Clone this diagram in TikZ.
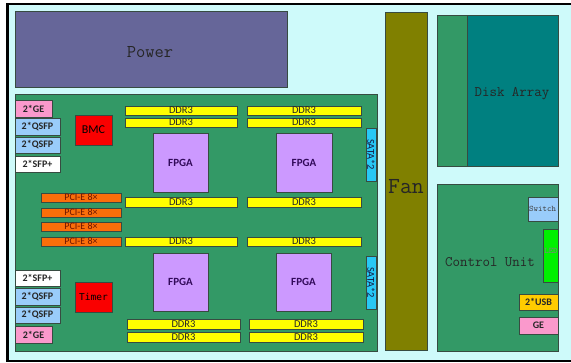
\documentclass[tikz,border=0pt]{standalone}
\usepackage{fontspec}
\newfontfamily\carl{Carlito}
\newfontfamily\dvm{DejaVu Sans Mono}
\definecolor{bgcyan}{RGB}{206,250,250}
\definecolor{powerc}{RGB}{102,102,153}
\definecolor{boardc}{RGB}{51,153,102}
\definecolor{fanc}{RGB}{128,128,0}
\definecolor{tealc}{RGB}{0,128,128}
\definecolor{pcic}{RGB}{250,110,10}
\definecolor{ddrc}{RGB}{255,255,0}
\definecolor{fpgac}{RGB}{204,153,255}
\definecolor{satac}{RGB}{40,200,245}
\definecolor{redc}{RGB}{250,0,0}
\definecolor{pinkc}{RGB}{250,153,204}
\definecolor{lbluec}{RGB}{153,204,250}
\definecolor{goldc}{RGB}{255,204,0}
\definecolor{ledc}{RGB}{0,240,0}
\definecolor{edgec}{RGB}{55,75,65}
\newcommand\bx[7]{\node[#1, minimum width={#5pt-#3pt}, minimum height={#6pt-#4pt}, anchor=north west] (#2) at (#3,#4) {#7};}
\tikzset{
  box/.style={draw=edgec, line width=0.8pt, inner sep=0pt, outer sep=0pt},
  ddr/.style={box, fill=ddrc, font=\carl\fontsize{10.5}{10}\selectfont, text=black!85},
  pci/.style={box, fill=pcic, font=\carl\fontsize{10}{10}\selectfont, text={rgb,255:red,110;green,20;blue,0}},
  fpga/.style={box, fill=fpgac, font=\carl\bfseries\fontsize{11}{12}\selectfont, text={rgb,255:red,50;green,10;blue,90}},
  port/.style={box, font=\carl\bfseries\fontsize{10}{11}\selectfont, text=black!85},
  sata/.style={box, fill=satac, font=\carl\fontsize{10.5}{11}\selectfont, text={rgb,255:red,20;green,30;blue,70}},
  biglbl/.style={font=\ttfamily, text=black!85},
}
\begin{document}
\begin{tikzpicture}[x=1pt,y=-1pt]
\useasboundingbox (0,0) rectangle (571,362);
\fill[white] (0,0) rectangle (571,362);
\draw[line width=2.6pt, fill=bgcyan] (7.5,4) rectangle (590,361);
% big blocks
\bx{box, fill=powerc}{power}{15}{11}{287}{87}{}
\node[biglbl, font=\ttfamily\fontsize{18}{20}\selectfont] (powerlbl) at (150,52) {Power};
\bx{box, fill=boardc}{board}{15}{94}{377}{351}{}
\bx{box, fill=fanc}{fan}{385}{12}{427}{350}{}
\node[biglbl, font=\ttfamily\fontsize{23}{24}\selectfont] (fanlbl) at (406,187) {Fan};
\bx{box, fill=tealc}{disk}{437}{15}{558}{166}{}
\bx{box, fill=boardc}{diskstrip}{437}{15}{467}{166}{}
\node[biglbl, font=\ttfamily\fontsize{14.5}{16}\selectfont] (disklbl) at (512,94) {Disk Array};
\bx{box, fill=boardc}{ctrl}{437}{184}{558}{351}{}
\node[biglbl, font=\ttfamily\fontsize{14.5}{16}\selectfont] (ctrllbl) at (490,262) {Control Unit};
\bx{box, fill=lbluec}{switch}{528}{197}{558}{221}{}
\node[font=\ttfamily\fontsize{8.5}{9}\selectfont, text=black!75, anchor=west, inner sep=0pt] (switchlbl) at (529,209) {Switch};
\bx{box, fill=ledc}{led}{543}{229}{558}{282}{}
\node[font=\ttfamily\fontsize{8.5}{9}\selectfont, text=black!50, inner sep=0pt] (ledlbl) at (551,251) {LED};
\bx{port, fill=goldc}{usb}{519}{294}{558}{310}{2*USB}
\bx{port, fill=pinkc}{ge}{519}{317}{558}{334}{GE}
% board left ports top
\bx{port, fill=pinkc}{geA}{15}{100}{52}{117}{2*GE}
\bx{port, fill=lbluec}{qsfpA}{15}{118}{60}{135}{2*QSFP}
\bx{port, fill=lbluec}{qsfpB}{15}{137}{60}{153}{2*QSFP}
\bx{port, fill=white}{sfpA}{15}{156}{60}{172}{2*SFP+}
\bx{box, fill=redc, font=\carl\fontsize{12}{13}\selectfont}{bmc}{75}{115}{112}{145}{BMC}
% board left ports bottom
\bx{port, fill=white}{sfpB}{15}{270}{60}{286}{2*SFP+}
\bx{port, fill=lbluec}{qsfpC}{15}{288}{60}{305}{2*QSFP}
\bx{port, fill=lbluec}{qsfpD}{15}{307}{60}{323}{2*QSFP}
\bx{port, fill=pinkc}{geB}{15}{326}{52}{343}{2*GE}
\bx{box, fill=redc, font=\dvm\fontsize{9.5}{10}\selectfont}{timer}{75}{282}{112}{312}{Timer}
% PCI-E
\bx{pci}{pciA}{41}{193}{121}{202}{PCI-E 8\texttimes}
\bx{pci}{pciB}{41}{208}{121}{217}{PCI-E 8\texttimes}
\bx{pci}{pciC}{41}{222}{121}{231}{PCI-E 8\texttimes}
\bx{pci}{pciD}{41}{237}{121}{246}{PCI-E 8\texttimes}
% DDR3
\bx{ddr}{ddrA}{125}{106}{237}{115}{DDR3}
\bx{ddr}{ddrB}{125}{118}{237}{127}{DDR3}
\bx{ddr}{ddrC}{125}{197}{237}{207}{DDR3}
\bx{ddr}{ddrD}{247}{106}{361}{115}{DDR3}
\bx{ddr}{ddrE}{247}{118}{361}{127}{DDR3}
\bx{ddr}{ddrF}{247}{197}{361}{207}{DDR3}
\bx{ddr}{ddrG}{125}{237}{237}{246}{DDR3}
\bx{ddr}{ddrH}{247}{237}{361}{246}{DDR3}
\bx{ddr}{ddrI}{127}{319}{240}{329}{DDR3}
\bx{ddr}{ddrJ}{127}{332}{240}{342}{DDR3}
\bx{ddr}{ddrK}{249}{319}{363}{329}{DDR3}
\bx{ddr}{ddrL}{249}{332}{363}{342}{DDR3}
% FPGA
\bx{fpga}{fpgaA}{153}{133}{208}{192}{FPGA}
\bx{fpga}{fpgaB}{276}{133}{332}{192}{FPGA}
\bx{fpga}{fpgaC}{153}{253}{208}{311}{FPGA}
\bx{fpga}{fpgaD}{276}{253}{331}{311}{FPGA}
% SATA
\bx{sata}{sataA}{366}{128}{376}{181}{\rotatebox{-90}{SATA*2}}
\bx{sata}{sataB}{366}{256}{376}{309}{\rotatebox{-90}{SATA*2}}
\end{tikzpicture}
\end{document}
